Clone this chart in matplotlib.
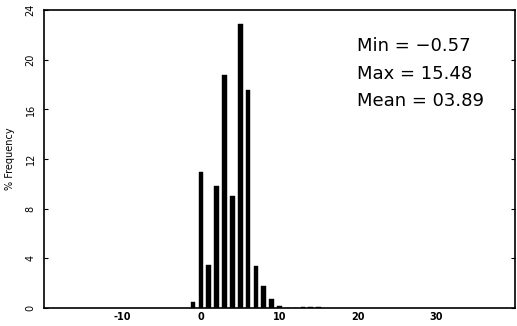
import numpy as np
import matplotlib
matplotlib.use("Agg")
import matplotlib.pyplot as plt

# histogram bins (integer centres) and % frequency
bins = [-1, 0, 1, 2, 3, 4, 5, 6, 7, 8, 9, 10, 11, 12, 13, 14, 15]
freq = [0.45, 11.0, 3.45, 9.8, 18.8, 9.0, 22.9, 17.6, 3.4, 1.8, 0.75, 0.15,
        0.04, 0.04, 0.06, 0.12, 0.12]
xticks = [-10, 0, 10, 20, 30]
yticks = [0, 4, 8, 12, 16, 20, 24]
stats = ["Min = \u22120.57", "Max = 15.48", "Mean = 03.89"]

fig = plt.figure(figsize=(5.17, 3.26), dpi=100)
ax = fig.add_axes([0.085, 0.055, 0.911, 0.914])

ax.bar(bins, freq, width=0.6, color="black", edgecolor="black", linewidth=0.3)

ax.set_xlim(-20, 40)
ax.set_ylim(0, 24)
ax.set_xticks(xticks)
ax.set_yticks(yticks)
ax.set_xticklabels([str(v) for v in xticks], fontsize=7, fontweight="bold")
ax.set_yticklabels([str(v) for v in yticks], fontsize=7, rotation=90, va="center")
ax.tick_params(axis="x", length=0, pad=3)
ax.tick_params(axis="y", direction="in", length=3, right=True, pad=6)
ax.set_ylabel("% Frequency", fontsize=7, labelpad=8)

for s in ax.spines.values():
    s.set_linewidth(1.2)

y0 = 0.88
for i, t in enumerate(stats):
    ax.text(0.665, y0 - i * 0.093, t, transform=ax.transAxes, fontsize=13,
            va="center", ha="left", color="black")

fig.savefig("out.png", dpi=100)
